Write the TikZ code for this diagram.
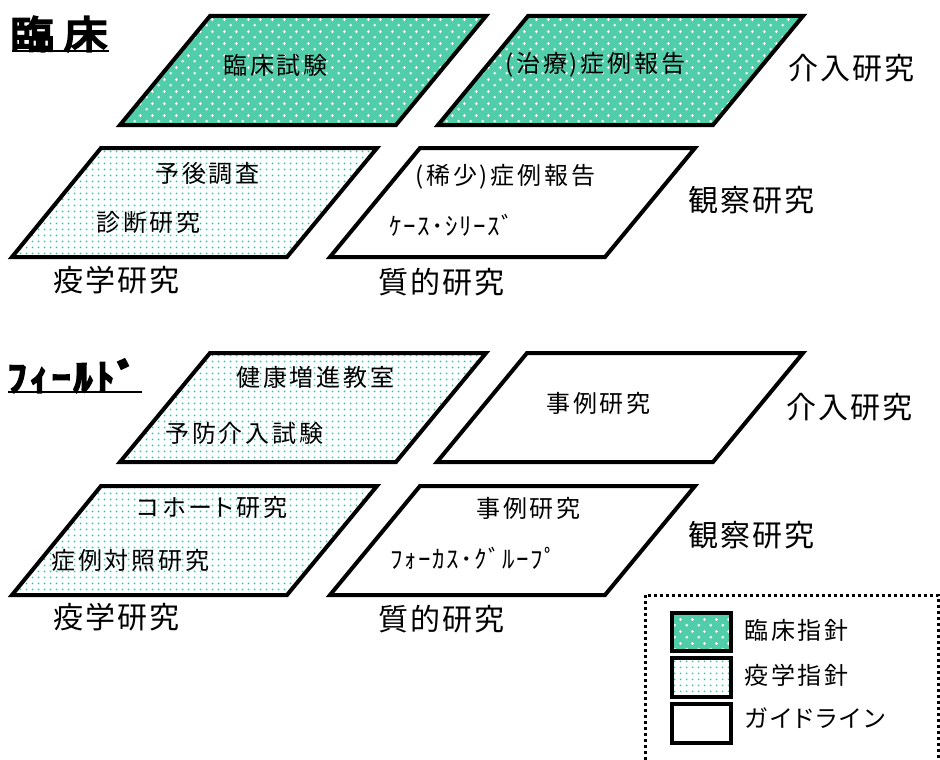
\documentclass[tikz,border=0pt]{standalone}
\usepackage{fontspec}
\setmainfont{Noto Sans CJK JP}
\newfontfamily\boxfont{Noto Sans CJK JP}[LetterSpace=12]
\newfontfamily\boxpfont{Noto Sans CJK JP}[LetterSpace=12,RawFeature=+palt]
\newfontfamily\halffont{Noto Sans CJK JP}[LetterSpace=6]
\newfontfamily\labfont{Noto Sans CJK JP}[LetterSpace=7]
\newfontfamily\titlefont{Noto Sans CJK JP}[FakeBold=6,FakeStretch=1.15]
\newfontfamily\fieldfont{Noto Sans CJK JP}[FakeBold=8,LetterSpace=11]
\usetikzlibrary{patterns}
\definecolor{clinfill}{RGB}{80,206,170}
\definecolor{epidot}{RGB}{30,205,160}
\pgfdeclarepatternformonly{clincross}{\pgfqpoint{0pt}{0pt}}{\pgfqpoint{12pt}{12pt}}{\pgfqpoint{12pt}{12pt}}{%
  \pgfsetlinewidth{1pt}%
  \pgfpathmoveto{\pgfqpoint{1.5pt}{3pt}}\pgfpathlineto{\pgfqpoint{4.5pt}{3pt}}%
  \pgfpathmoveto{\pgfqpoint{3pt}{1.5pt}}\pgfpathlineto{\pgfqpoint{3pt}{4.5pt}}%
  \pgfpathmoveto{\pgfqpoint{7.5pt}{9pt}}\pgfpathlineto{\pgfqpoint{10.5pt}{9pt}}%
  \pgfpathmoveto{\pgfqpoint{9pt}{7.5pt}}\pgfpathlineto{\pgfqpoint{9pt}{10.5pt}}%
  \pgfusepath{stroke}}
\pgfdeclarepatternformonly{epidots}{\pgfqpoint{0pt}{0pt}}{\pgfqpoint{6pt}{6pt}}{\pgfqpoint{6pt}{6pt}}{%
  \pgfpathcircle{\pgfqpoint{3pt}{3pt}}{1.1pt}%
  \pgfusepath{fill}}
\tikzset{
  clin/.style={preaction={fill=clinfill}, preaction={pattern=clincross, pattern color=white}},
  epi/.style={preaction={fill=white}, preaction={pattern=epidots, pattern color=epidot}},
  plain/.style={preaction={fill=white}},
  para/.style={draw=black, line width=4pt, line join=miter},
  boxtxt/.style={inner sep=0pt, anchor=west, font=\boxfont\fontsize{24}{28}\selectfont},
  boxptxt/.style={inner sep=0pt, anchor=west, font=\boxpfont\fontsize{24}{28}\selectfont},
  halftxt/.style={inner sep=0pt, anchor=west, font=\halffont\fontsize{25}{28}\selectfont},
  labtxt/.style={inner sep=0pt, anchor=west, font=\labfont\fontsize{30}{34}\selectfont},
  legbox/.style={draw=black, line width=3.5pt},
}
\begin{document}
\begin{tikzpicture}[x=1pt,y=-1pt]
\useasboundingbox[fill=white] (0,0) rectangle (940,760);
% titles
\node[inner sep=0pt, anchor=west, font=\titlefont\fontsize{38}{40}\selectfont] (t1) at (10,34) {臨 床};
\draw[line width=1.5pt] (12,51) -- (109,51);
\node[inner sep=0pt, anchor=west, font=\fieldfont\fontsize{36}{40}\selectfont] (t2) at (8,376) {ﾌｨｰﾙﾄﾞ};
\draw[line width=1.5pt] (8,392) -- (142,392);
% row 1
\draw[para, clin] (120,125) -- (210,16) -- (486,16) -- (396,125) -- cycle;
\draw[para, clin] (438,125) -- (528,16) -- (803,16) -- (713,125) -- cycle;
% row 2
\draw[para, epi] (12,257) -- (101,148) -- (377,148) -- (287,257) -- cycle;
\draw[para, plain] (330,257) -- (420,148) -- (695,148) -- (605,257) -- cycle;
% row 3
\draw[para, epi] (120,462) -- (210,353) -- (486,353) -- (396,462) -- cycle;
\draw[para, plain] (437,462) -- (527,353) -- (803,353) -- (713,462) -- cycle;
% row 4
\draw[para, epi] (12,595) -- (101,486) -- (377,486) -- (287,595) -- cycle;
\draw[para, plain] (330,595) -- (420,486) -- (695,486) -- (605,595) -- cycle;
% box texts
\node[boxtxt] (a) at (223,65) {臨床試験};
\node[boxtxt] (b) at (505,65) {(治療)症例報告};
\node[boxtxt] (c1) at (155,173) {予後調査};
\node[boxtxt] (c2) at (96,222) {診断研究};
\node[boxtxt] (d1) at (415,177) {(稀少)症例報告};
\node[halftxt] (d2) at (389,225) {ｹｰｽ･ｼﾘｰｽﾞ};
\node[boxtxt] (e1) at (236,377) {健康増進教室};
\node[boxtxt] (e2) at (165,433) {予防介入試験};
\node[boxtxt] (f) at (546,403) {事例研究};
\node[boxptxt] (g1) at (137,507) {コホート研究};
\node[boxtxt] (g2) at (51,560) {症例対照研究};
\node[boxtxt] (h1) at (476,508) {事例研究};
\node[halftxt] (h2) at (390,558) {ﾌｫｰｶｽ･ｸﾞﾙｰﾌﾟ};
% labels
\node[labtxt] (l1) at (788,68) {介入研究};
\node[labtxt] (l2) at (688,200) {観察研究};
\node[labtxt] (l3) at (53,280) {疫学研究};
\node[labtxt] (l4) at (378,282) {質的研究};
\node[labtxt] (l5) at (786,407) {介入研究};
\node[labtxt] (l6) at (688,535) {観察研究};
\node[labtxt] (l7) at (53,617) {疫学研究};
\node[labtxt] (l8) at (378,619) {質的研究};
% legend
\draw[line width=3pt, dash pattern=on 3pt off 3pt] (645,760) -- (645,595) -- (938,595) -- (938,760);
\draw[legbox, clin] (672,613) rectangle (731,651);
\draw[legbox, epi] (672,658) rectangle (731,697);
\draw[legbox, plain] (672,704) rectangle (731,743);
\node[boxtxt] (k1) at (744,630) {臨床指針};
\node[boxtxt] (k2) at (744,675) {疫学指針};
\node[boxptxt] (k3) at (744,718) {ガイドライン};
\end{tikzpicture}
\end{document}
